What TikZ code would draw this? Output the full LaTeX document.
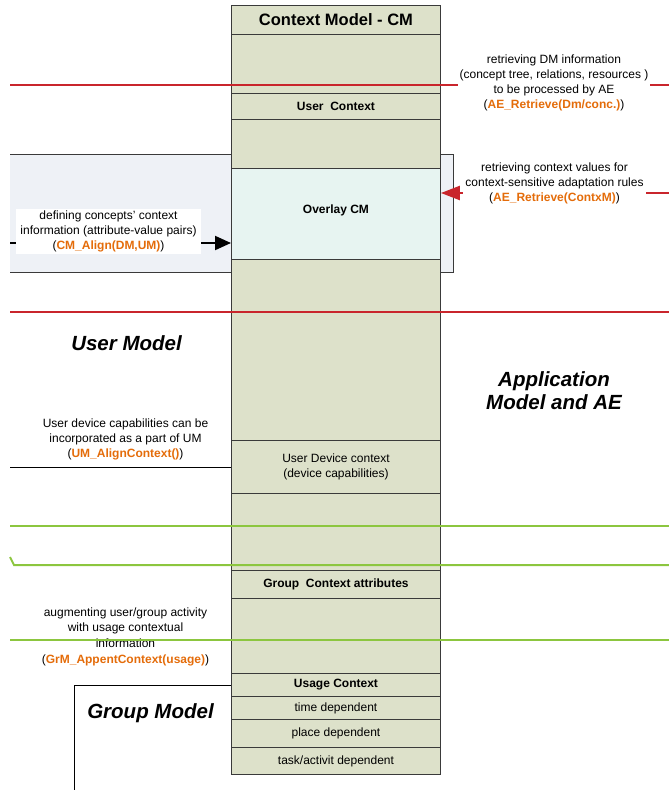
\documentclass[tikz,border=0pt]{standalone}
\usepackage{fontspec}
\setmainfont{Liberation Sans}
\usetikzlibrary{arrows.meta}

\definecolor{cmfill}{HTML}{DDE1CA}
\definecolor{ovfill}{HTML}{E7F4F1}
\definecolor{umfill}{HTML}{EEF1F6}
\definecolor{redline}{HTML}{C9252C}
\definecolor{greenline}{HTML}{8CC63F}
\definecolor{opname}{HTML}{E46C0A}
\definecolor{edge}{HTML}{3A3A3A}

% operation name in orange bold, wrapped in black parentheses
\newcommand{\opcall}[1]{(\textcolor{opname}{\textbf{#1}})}

\begin{document}
\begin{tikzpicture}[x=1pt,y=-1pt,
  cmrow/.style={draw=edge, line width=0.9pt, fill=cmfill, anchor=north west,
    minimum width=209pt, inner sep=0pt, align=center,
    font=\fontsize{12}{15}\selectfont\bfseries},
  cmplain/.style={cmrow, font=\fontsize{12}{15}\selectfont},
  note/.style={align=center, inner sep=2pt, font=\fontsize{12}{15}\selectfont},
  whitenote/.style={note, fill=white},
  bigtitle/.style={align=center, inner sep=0pt,
    font=\fontsize{20.5}{23}\selectfont\bfseries\itshape},
  redln/.style={draw=redline, line width=2.3pt},
  greenln/.style={draw=greenline, line width=2pt},
  blackln/.style={draw=black, line width=0.9pt}
]
\useasboundingbox (0,0) rectangle (669,790);

% shaded User Model region behind the overlay
\node[fill=umfill, anchor=north west, minimum width=443pt, minimum height=118pt,
  inner sep=0pt] (umbox) at (10,154) {};
\draw[draw=edge, line width=0.9pt] (umbox.north west) -- (umbox.north east)
  -- (umbox.south east) -- (umbox.south west);

% Context Model column
\node[cmrow, minimum height=29pt, font=\fontsize{16.5}{18}\selectfont\bfseries]
  (hdr) at (231,5) {Context Model - CM};
\node[cmrow, minimum height=59pt] (r1) at (231,34) {};
\node[cmrow, minimum height=26pt] (uc) at (231,93) {User\ \ Context};
\node[cmrow, minimum height=49pt] (r2) at (231,119) {};
\node[cmrow, minimum height=91pt, fill=ovfill] (ov) at (231,168)
  {\raisebox{10pt}{Overlay CM}};
\node[cmrow, minimum height=181pt] (r3) at (231,259) {};
\node[cmplain, minimum height=53pt] (ud) at (231,440)
  {User Device context\\(device capabilities)};
\node[cmrow, minimum height=77pt] (r4) at (231,493) {};
\node[cmrow, minimum height=28pt] (gc) at (231,570) {Group\ \ Context attributes};
\node[cmrow, minimum height=75pt] (r5) at (231,598) {};
\node[cmrow, minimum height=23pt] (us) at (231,673) {Usage Context};
\node[cmplain, minimum height=23pt] (t1) at (231,696) {time dependent};
\node[cmplain, minimum height=28pt] (t2) at (231,719) {place dependent};
\node[cmplain, minimum height=27pt] (t3) at (231,747) {task/activit dependent};

% free ends of the separating lines and arrows
\coordinate (redAw) at (10,85);  \coordinate (redAe) at (669,85);
\coordinate (redBw) at (10,312); \coordinate (redBe) at (669,312);
\coordinate (arrE) at (669,193);
\coordinate (blkW) at (10,243);
\coordinate (udW) at (10,467);
\coordinate (grAw) at (10,526);  \coordinate (grAe) at (669,526);
\coordinate (grBw) at (10,557);  \coordinate (grBk) at (14,565);
\coordinate (grBe) at (669,565);
\coordinate (grCw) at (10,640);  \coordinate (grCe) at (669,640);
\coordinate (gmS) at (74,790);

% red separators and retrieval arrow
\draw[redln] (redAw) -- (redAe);
\draw[redln] (redBw) -- (redBe);
\draw[redln, -{Triangle[length=19pt,width=14pt]}] (arrE) -- (arrE -| ov.east);

% black connectors
\draw[draw=black, line width=2pt, -{Triangle[length=16pt,width=14pt]}]
  (blkW) -- (blkW -| ov.west);
\draw[blackln] (udW) -- (udW -| ud.west);
\draw[blackln] (gmS) |- (us.west);

% labels on connectors
\node[whitenote] (lblDM) at (554,82.5)
  {retrieving DM information\\(concept tree, relations, resources )\\
   to be processed by AE\\\opcall{AE\_Retrieve(Dm/conc.)}};
\node[whitenote] (lblAE) at (554.5,183)
  {retrieving context values for\\context-sensitive adaptation rules\\
   \opcall{AE\_Retrieve(ContxM)}};
\node[whitenote, minimum width=185pt, minimum height=45pt] (lblCM) at (108.5,231.5)
  {defining concepts' context\\information (attribute-value pairs)\\
   \opcall{CM\_Align(DM,UM)}};
\node[note] (lblUD) at (125.5,439)
  {User device capabilities can be\\incorporated as a part of UM\\
   \opcall{UM\_AlignContext()}};
\node[note, font=\fontsize{12}{15.7}\selectfont] (lblGr) at (125.5,636.5)
  {augmenting user/group activity\\with usage contextual\\information\\
   \opcall{GrM\_AppentContext(usage)}};

% model titles
\node[bigtitle] (umT) at (126.5,343) {User Model};
\node[bigtitle] (amT) at (554,390.5) {Application\\Model and AE};
\node[bigtitle] (gmT) at (150.5,713) {Group Model};

% green separators
\draw[greenln] (grAw) -- (grAe);
\draw[greenln] (grBw) -- (grBk) -- (grBe);
\draw[greenln] (grCw) -- (grCe);
\end{tikzpicture}
\end{document}
